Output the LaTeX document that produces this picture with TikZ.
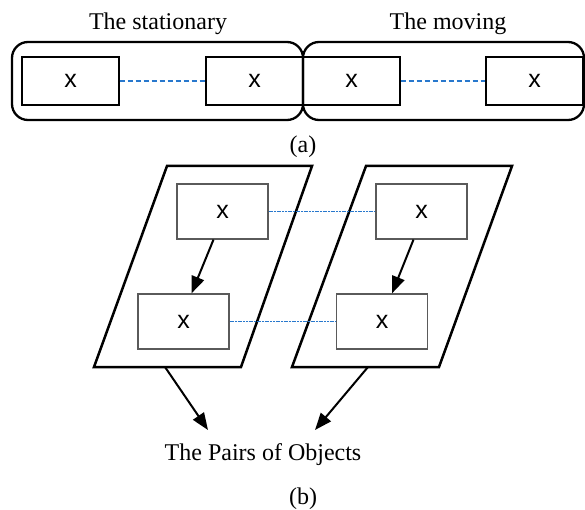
\documentclass[tikz,border=0pt]{standalone}
\usepackage{fontspec}
\setmainfont{Liberation Serif}
\newfontfamily\arialf{Liberation Sans}
\usetikzlibrary{arrows.meta}
\definecolor{linkblue}{RGB}{40,120,205}
\definecolor{boxgrey}{RGB}{90,90,90}
\begin{document}
\begin{tikzpicture}[x=1pt,y=-1pt,
  lbl/.style={font=\fontsize{24}{28}\selectfont, inner sep=0pt, anchor=base},
  container/.style={draw=black, line width=2.3pt, rounded corners=16pt, minimum height=78pt, inner sep=0pt},
  abox/.style={draw=black, line width=1.2pt, minimum width=97pt, minimum height=48pt, inner sep=0pt, font=\arialf\fontsize{25}{28}\selectfont},
  bbox/.style={draw=boxgrey, line width=1.2pt, fill=white, minimum width=91pt, minimum height=55pt, inner sep=0pt, font=\arialf\fontsize{25}{28}\selectfont},
  dashlink/.style={draw=linkblue, line width=1.4pt, dash pattern=on 5pt off 3pt},
  dotlink/.style={draw=linkblue, line width=1.1pt, dash pattern=on 2pt off 0.7pt},
  plgram/.style={draw=black, line width=2.5pt, line join=miter},
  flow/.style={draw=black, line width=2pt, -{Triangle[length=17pt,width=13pt]}}
]
\useasboundingbox (0,0) rectangle (585,510);

% (a)
\node[container, minimum width=291pt] (cs) at (157.5,81) {};
\node[container, minimum width=281pt] (cm) at (443.5,81) {};
\node[lbl] (ts) at (158,30) {The stationary};
\node[lbl] (tm) at (448,30) {The moving};
\node[abox] (a1) at (70.5,81) {x};
\node[abox] (a2) at (254.5,81) {x};
\node[abox] (a3) at (351.5,81) {x};
\node[abox] (a4) at (534.5,81) {x};
\draw[dashlink] (a1.east) -- (a2.west);
\draw[dashlink] (a3.east) -- (a4.west);
\node[lbl] (la) at (303,153) {(a)};

% (b)
\draw[plgram] (167,166) -- (312,166) -- (241,367) -- (94,367) -- cycle;
\draw[plgram] (366,166) -- (512,166) -- (439,367) -- (292,367) -- cycle;
\coordinate (pl) at (165,367);
\coordinate (pr) at (368,367);
\coordinate (el) at (208,430);
\coordinate (er) at (315,430);

\node[bbox] (b1) at (222.5,211.5) {x};
\node[bbox] (b2) at (183.5,321.5) {x};
\node[bbox] (b3) at (421.5,211.5) {x};
\node[bbox] (b4) at (382,321.5) {x};

\draw[dotlink] (b1.east) -- (b3.west);
\draw[dotlink] (b2.east) -- (b4.west);

\draw[flow] ([xshift=-9pt]b1.south) -- ([xshift=8pt]b2.north);
\draw[flow] ([xshift=-8pt]b3.south) -- ([xshift=10pt]b4.north);

\draw[flow] (pl) -- (el);
\draw[flow] (pr) -- (er);

\node[lbl] (pairs) at (263,460) {The Pairs of Objects};
\node[lbl] (lb) at (303,504) {(b)};
\end{tikzpicture}
\end{document}
